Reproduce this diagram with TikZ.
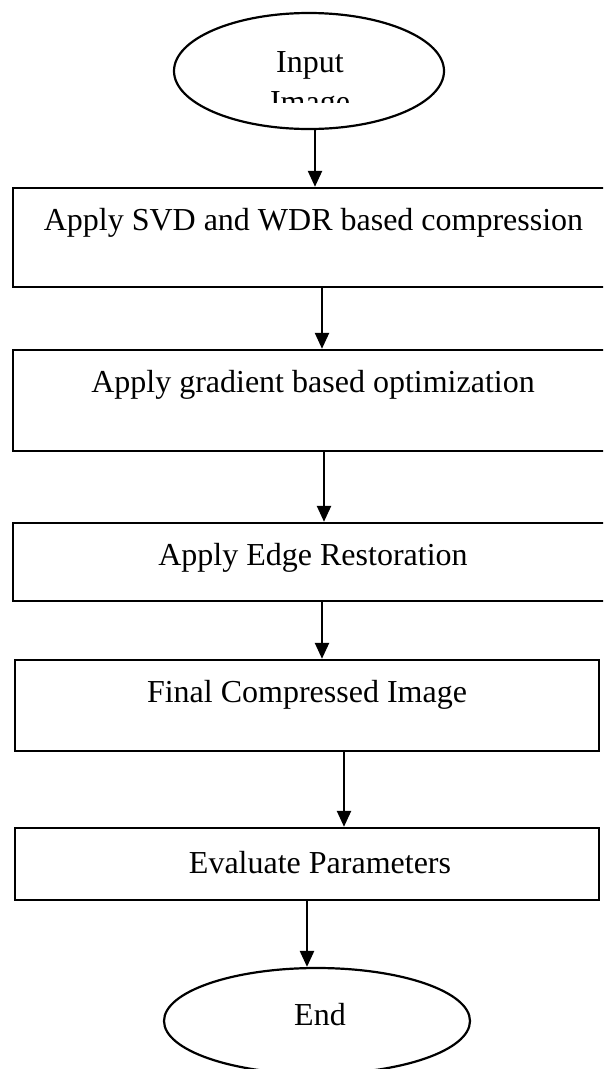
\documentclass[tikz,border=0pt]{standalone}
\usepackage{fontspec}
\setmainfont{Liberation Serif}
\usetikzlibrary{arrows.meta,shapes.geometric}
\begin{document}
\begin{tikzpicture}[x=1pt,y=-1pt,
  box/.style={draw, line width=2.4pt, rectangle, inner sep=0pt},
  oval/.style={draw, line width=2.2pt, ellipse, inner sep=0pt},
  lbl/.style={anchor=base, inner sep=0pt, font=\fontsize{32}{38}\selectfont},
  arr/.style={-{Triangle[length=16pt,width=14pt]}, line width=2.4pt}]
\useasboundingbox (0,0) rectangle (603,1069);
\clip (0,0) rectangle (603,1069);
% shapes
\node[oval, minimum width=270pt, minimum height=116pt] (in) at (309,71) {};
\node[box, minimum width=607pt, minimum height=99pt] (b1) at (316.5,237.5) {};
\node[box, minimum width=607pt, minimum height=101pt] (b2) at (316.5,400.5) {};
\node[box, minimum width=607pt, minimum height=78pt] (b3) at (316.5,562) {};
\node[box, minimum width=584pt, minimum height=91pt] (b4) at (307,705.5) {};
\node[box, minimum width=584pt, minimum height=72pt] (b5) at (307,864) {};
\node[oval, minimum width=306pt, minimum height=106pt] (end) at (317,1021) {};
% texts
\node[lbl] (t0a) at (310,72) {Input};
\begin{scope}
  \clip (150,0) rectangle (470,102);
  \node[lbl] (t0b) at (310,112) {Image};
\end{scope}
\node[lbl] (t1) at (313.5,230) {Apply SVD and WDR based compression};
\node[lbl] (t2) at (313,392) {Apply gradient based optimization};
\node[lbl] (t3) at (313,565) {Apply Edge Restoration};
\node[lbl] (t4) at (307,702) {Final Compressed Image};
\node[lbl] (t5) at (320,873) {Evaluate Parameters};
\node[lbl] (t6) at (320,1025) {End};
% connectors
\coordinate (x1) at (315,0);
\coordinate (x2) at (322,0);
\coordinate (x3) at (324,0);
\coordinate (x4) at (322,0);
\coordinate (x5) at (344,0);
\coordinate (x6) at (307,0);
\draw[arr] (x1 |- in.south) -- (x1 |- b1.north);
\draw[arr] (x2 |- b1.south) -- (x2 |- b2.north);
\draw[arr] (x3 |- b2.south) -- (x3 |- b3.north);
\draw[arr] (x4 |- b3.south) -- (x4 |- b4.north);
\draw[arr] (x5 |- b4.south) -- (x5 |- b5.north);
\draw[arr] (x6 |- b5.south) -- (x6 |- end.north);
\end{tikzpicture}
\end{document}
